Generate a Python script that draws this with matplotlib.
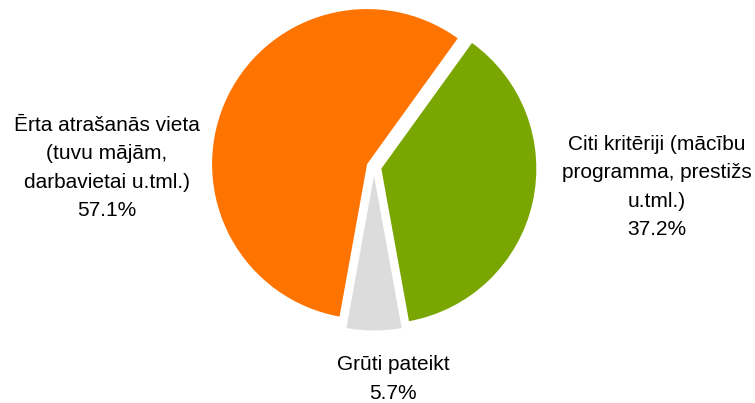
import matplotlib
matplotlib.use("Agg")
import matplotlib.pyplot as plt

# slices in counter-clockwise order starting at the top-right gap
labels = ["Ērta atrašanās vieta\n(tuvu mājām,\ndarbavietai u.tml.)",
          "Grūti pateikt",
          "Citi kritēriji (mācību\nprogramma, prestižs\nu.tml.)"]
values = [57.1, 5.7, 37.2]
colors = ["#FF7400", "#DCDCDC", "#79A600"]

plt.rcParams['font.family'] = ['Liberation Sans', 'DejaVu Sans']

fig = plt.figure(figsize=(7.55, 4.03), dpi=100)
ax = fig.add_axes([0, 0, 1, 1])

# explode is in data units here (axes are in pixels)
ax.pie(values, colors=colors, startangle=54.2, counterclock=True,
       center=(374, 236), radius=155, explode=[7.5, 8.5, 7.5],
       wedgeprops=dict(linewidth=0, antialiased=True))

# pie() resets the view, so set pixel-like limits afterwards
ax.set_xlim(0, 755)
ax.set_ylim(0, 403)
ax.set_aspect('equal')
ax.axis('off')

# label positions (pixels, y up)
label_pos = [(107, 235), (393, 24), (657, 216)]
for lab, val, (x, y) in zip(labels, values, label_pos):
    ax.text(x, y, f"{lab}\n{val:.1f}%", ha='center', va='center',
            multialignment='center', fontsize=15, linespacing=1.63,
            color='#000000')

fig.savefig("out.png", dpi=100)
